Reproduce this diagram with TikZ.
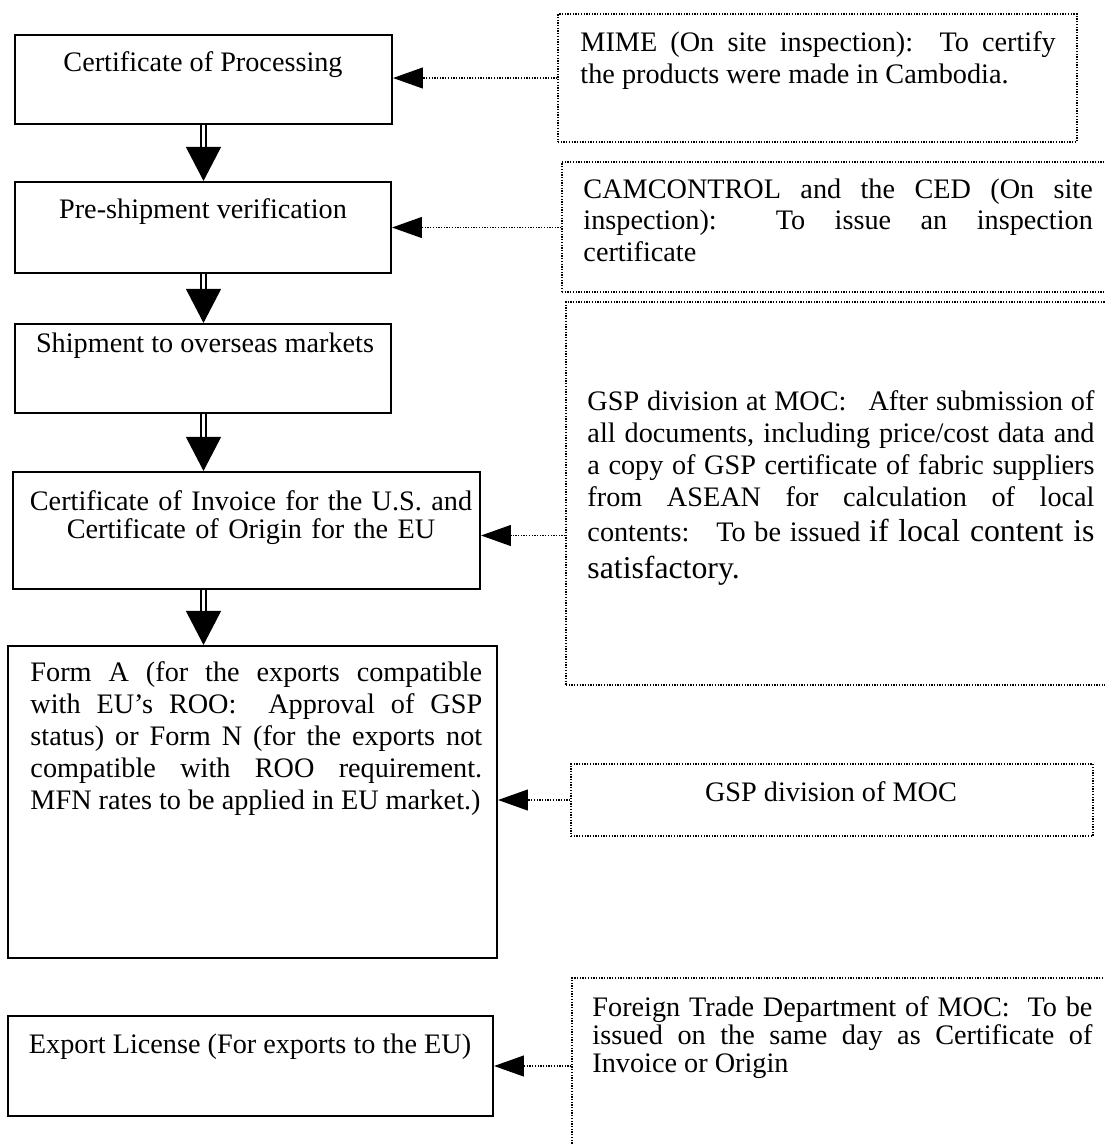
\documentclass[tikz,border=0pt]{standalone}
\usepackage{fontspec}
\setmainfont{Liberation Serif}
\usetikzlibrary{arrows.meta,fit,calc}
\tolerance=10000
\hyphenpenalty=10000
\exhyphenpenalty=10000
\begin{document}
\begin{tikzpicture}[
  x=0.425pt, y=-0.425pt,
  stepbox/.style={draw, line width=0.9pt, inner sep=0pt},
  notebox/.style={draw, line width=0.55pt, dash pattern=on 0.55pt off 0.6pt, inner sep=0pt},
  flowshaft/.style={double, double distance=1.1pt, line width=0.8pt},
  flowhead/.style={-{Triangle[length=14.5pt,width=14.9pt]}, line width=0.6pt},
  feed/.style={line width=0.55pt, dash pattern=on 0.55pt off 0.6pt,
               -{Triangle[length=12.7pt,width=8.9pt]}},
  boxtext/.style={inner sep=0pt, font=\fontsize{12}{13.7}\selectfont},
  just/.style={boxtext, align=justify, anchor=base west},
]
\useasboundingbox (0,0) rectangle (1105,1144);
\clip (0,0) rectangle (1105,1144);

% ---- main sequence (left column) ----
\node[stepbox, fit={(15,35) (392,124)}]   (b1) {};
\node[stepbox, fit={(15,182) (391,273)}]  (b2) {};
\node[stepbox, fit={(15,324) (391,413)}]  (b3) {};
\node[stepbox, fit={(13,472) (480,589)}]  (b4) {};
\node[stepbox, fit={(8,646) (497,958)}]   (b5) {};
\node[stepbox, fit={(8,1016) (493,1116)}] (b6) {};

\node[boxtext, anchor=base] (t1) at (203,71) {Certificate of Processing};
\node[boxtext, anchor=base] (t2) at (203,218) {Pre-shipment verification};
\node[boxtext, anchor=base] (t3) at (205,352) {Shipment to overseas markets};
\node[boxtext, anchor=base, align=center, text width=200pt,
      font=\fontsize{12}{12}\selectfont] (t4) at (251,510)
  {Certificate of Invoice for the U.S. and\\Certificate of Origin for the EU};
\node[just, text width=192pt] (t5) at (30,681)
  {Form A (for the exports compatible\linebreak
   with EU’s ROO:\ \ Approval of GSP\linebreak
   status) or Form N (for the exports not\linebreak
   compatible with ROO requirement.\linebreak
   MFN rates to be applied in EU market.)};
\node[boxtext, anchor=base] (t6) at (250,1053) {Export License (For exports to the EU)};

% ---- issuing bodies (right column) ----
\node[notebox, fit={(558,14) (1077,142)}]  (mime) {};
\node[notebox, fit={(562,162) (1120,292)}] (cam) {};
\node[notebox, fit={(566,302) (1120,685)}] (gsp) {};
\node[notebox, fit={(571,764) (1093,836)}] (gspdiv) {};
\node[notebox, fit={(572,978) (1120,1160)}] (ftd) {};

\node[just, text width=202pt] (tm) at (580,51)
  {MIME (On site inspection):\ \ To certify\linebreak
   the products were made in Cambodia.};
\node[just, text width=216.5pt, font=\fontsize{12}{13.4}\selectfont] (tc) at (583,198)
  {CAMCONTROL and the CED (On site\linebreak
   inspection):\ \ To issue an inspection\linebreak
   certificate};
\node[just, text width=215.5pt, font=\fontsize{12}{13.6}\selectfont] (tg) at (587,410)
  {GSP division at MOC:\hspace{0.5em} After submission of\linebreak
   all documents, including price/cost data and\linebreak
   a copy of GSP certificate of fabric suppliers\linebreak
   from ASEAN for calculation of local\vadjust{\vskip1.3pt}\linebreak
   contents:\hspace{0.5em} To be issued {\fontsize{13.5}{15}\selectfont if local content is}\vadjust{\vskip2.1pt}\linebreak
   {\fontsize{13.5}{15}\selectfont satisfactory.}};
\node[boxtext, anchor=base] (td) at (831,801) {GSP division of MOC};
\node[just, text width=212.5pt, font=\fontsize{12}{12}\selectfont] (tf) at (592,1016)
  {Foreign Trade Department of MOC:\ \ To be\linebreak
   issued on the same day as Certificate of\linebreak
   Invoice or Origin};

% ---- flow arrows between steps ----
\foreach \a/\b in {b1/b2, b2/b3, b3/b4, b4/b5} {
  \draw[flowshaft] (\a.south -| b1.south) -- ($(\b.north -| b1.south)+(0,-34)$);
  \draw[flowhead] ($(\b.north -| b1.south)+(0,-34)$) -- (\b.north -| b1.south);
}

% ---- dotted feeds from issuing bodies ----
\coordinate (in4) at ($(b4.east)+(0,5)$);
\draw[feed] (mime.west) -- (mime.west -| b1.east);
\draw[feed] (cam.west |- b2.east) -- (b2.east);
\draw[feed] (gsp.west |- in4) -- (in4);
\draw[feed] (gspdiv.west) -- (gspdiv.west -| b5.east);
\draw[feed] (ftd.west |- b6.east) -- (b6.east);
\end{tikzpicture}
\end{document}
